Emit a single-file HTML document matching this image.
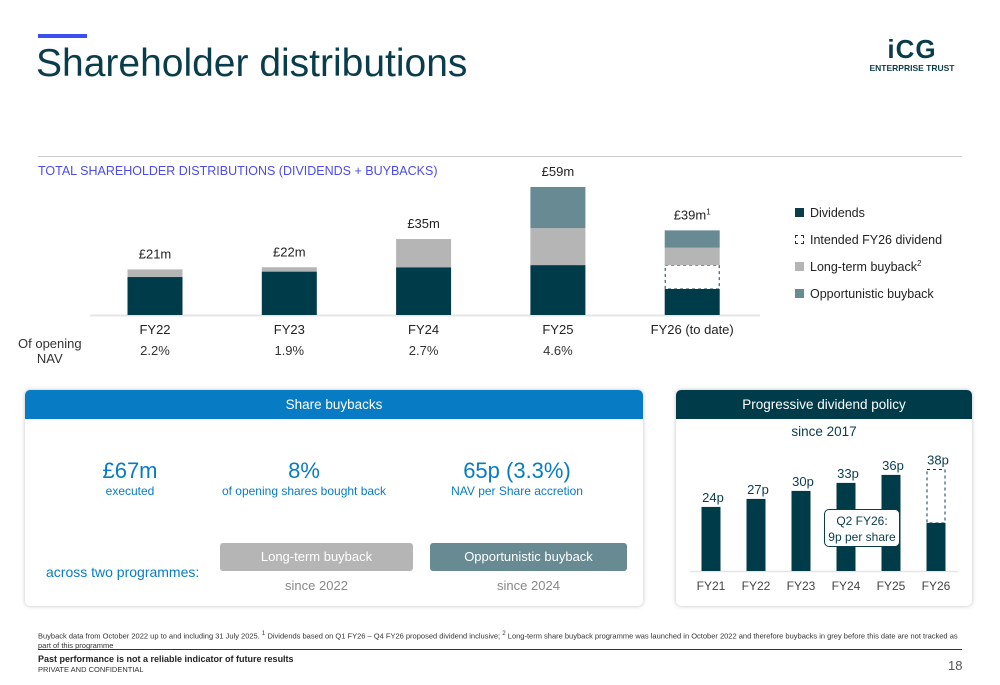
<!DOCTYPE html>
<html><head><meta charset="utf-8"><style>
*{margin:0;padding:0;box-sizing:border-box}
body{width:1000px;height:685px;background:#fff;font-family:"Liberation Sans",sans-serif;position:relative;overflow:hidden;color:#333}
.a{position:absolute;white-space:nowrap}
.c{text-align:center}
</style></head><body>
<div class="a" style="left:38px;top:34px;width:49px;height:4px;background:#3d4ff0"></div>
<div class="a" style="left:36px;top:42px;font-size:39px;color:#0a3d4c;letter-spacing:0px">Shareholder distributions</div>
<div class="a c" style="left:862px;top:36px;width:100px;color:#0a3d4c;font-weight:bold">
 <div style="font-size:26px;line-height:26px;letter-spacing:1px">iCG</div>
 <div style="font-size:8.5px;line-height:12px">ENTERPRISE TRUST</div></div>
<div class="a" style="left:38px;top:156px;width:924px;height:1px;background:#ccc"></div>
<div class="a" style="left:38px;top:164px;font-size:12.5px;color:#4b4bf0">TOTAL SHAREHOLDER DISTRIBUTIONS (DIVIDENDS + BUYBACKS)</div>

<svg class="a" style="left:0;top:0" width="1000" height="685" id="topchart"></svg>

<div class="a" style="left:18px;top:336px;font-size:13px;color:#333;text-align:center;line-height:15px">Of opening<br>NAV</div>

<div class="a" style="left:795px;top:200px;font-size:12.5px;color:#222;line-height:27px">
 <div><span style="display:inline-block;width:9px;height:9px;background:#0a3d4c;margin-right:6px"></span>Dividends</div>
 <div><span style="display:inline-block;width:9px;height:9px;border:1px dashed #0a3d4c;margin-right:6px"></span>Intended FY26 dividend</div>
 <div><span style="display:inline-block;width:9px;height:9px;background:#b5b5b5;margin-right:6px"></span>Long-term buyback<sup style="font-size:8px;line-height:0">2</sup></div>
 <div><span style="display:inline-block;width:9px;height:9px;background:#678a93;margin-right:6px"></span>Opportunistic buyback</div>
</div>

<div class="a" style="left:25px;top:390px;width:618px;height:216px;border-radius:5px;box-shadow:0 0 4px rgba(0,0,0,.25);background:#fff">
 <div class="c" style="height:29px;background:#077cc4;border-radius:5px 5px 0 0;color:#fff;font-size:13.5px;line-height:29px">Share buybacks</div>
</div>
<div class="a c" style="left:60px;top:458px;width:140px;color:#077cc4"><div style="font-size:22px">£67m</div><div style="font-size:12px">executed</div></div>
<div class="a c" style="left:200px;top:458px;width:208px;color:#077cc4"><div style="font-size:22px">8%</div><div style="font-size:12px">of opening shares bought back</div></div>
<div class="a c" style="left:413px;top:458px;width:208px;color:#077cc4"><div style="font-size:22px">65p (3.3%)</div><div style="font-size:12px">NAV per Share accretion</div></div>
<div class="a" style="left:46px;top:564px;font-size:14px;color:#077cc4">across two programmes:</div>
<div class="a c" style="left:220px;top:543px;width:193px;height:28px;border-radius:3px;background:#b5b5b5;color:#fff;font-size:13px;line-height:28px">Long-term buyback</div>
<div class="a c" style="left:220px;top:578px;width:193px;font-size:13px;color:#888">since 2022</div>
<div class="a c" style="left:430px;top:543px;width:197px;height:28px;border-radius:3px;background:#678a93;color:#fff;font-size:13px;line-height:28px">Opportunistic buyback</div>
<div class="a c" style="left:430px;top:578px;width:197px;font-size:13px;color:#888">since 2024</div>

<div class="a" style="left:676px;top:390px;width:296px;height:216px;border-radius:5px;box-shadow:0 0 4px rgba(0,0,0,.25);background:#fff">
 <div class="c" style="height:29px;background:#003b4a;border-radius:5px 5px 0 0;color:#fff;font-size:13.5px;line-height:29px">Progressive dividend policy</div>
 <div class="c" style="margin-top:5px;font-size:13.5px;color:#0a3d4c">since 2017</div>
</div>
<svg class="a" style="left:0;top:0" width="1000" height="685" id="divchart"></svg>
<div class="a c" style="left:824px;top:509px;width:76px;height:38px;border:1px solid #0a3d4c;border-radius:5px;background:#fff;font-size:12px;line-height:16px;color:#0a3d4c;padding-top:3px">Q2 FY26:<br>9p per share</div>

<div class="a" style="left:38px;top:629px;font-size:7.5px;color:#333;line-height:9px;white-space:normal;width:920px">Buyback data from October 2022 up to and including 31 July 2025. <sup>1</sup> Dividends based on Q1 FY26 – Q4 FY26 proposed dividend inclusive; <sup>2</sup> Long-term share buyback programme was launched in October 2022 and therefore buybacks in grey before this date are not tracked as part of this programme</div>
<div class="a" style="left:38px;top:649px;width:924px;height:1px;background:#333"></div>
<div class="a" style="left:38px;top:654px;font-size:9px;font-weight:bold;color:#222">Past performance is not a reliable indicator of future results</div>
<div class="a" style="left:38px;top:665px;font-size:7.5px;color:#333">PRIVATE AND CONFIDENTIAL</div>
<div class="a" style="left:948px;top:658px;font-size:13px;color:#555">18</div>

<script>
const years=["FY22","FY23","FY24","FY25","FY26 (to date)"];
const dividends=[17.5,20,22,23,12];
const intended=[0,0,0,0,11];
const longTerm=[3.5,2,13,17,8];
const opportunistic=[0,0,0,19,8];
const totals=["£21m","£22m","£35m","£59m","£39m"];
const navPct=["2.2%","1.9%","2.7%","4.6%",""];
const NS="http://www.w3.org/2000/svg";
function mk(svg,tag,at,txt){const e=document.createElementNS(NS,tag);for(const k in at)e.setAttribute(k,at[k]);if(txt!==undefined)e.textContent=txt;svg.appendChild(e);return e;}
const topSvg=document.getElementById('topchart');
const base=315,k=2.17,bw=55;
const xc=i=>155+i*134.3;
const yScale=v=>base-v*k;
const bl=mk(topSvg,'line',{x1:90,x2:760,y1:base+0.5,y2:base+0.5,stroke:'#e6e6e6','stroke-width':2});


years.forEach((yr,i)=>{
 let acc=0;
 const segs=[[dividends[i],'div'],[intended[i],'int'],[longTerm[i],'lt'],[opportunistic[i],'opp']];
 segs.forEach(([v,t])=>{
  if(v<=0)return;
  const at={x:xc(i)-bw/2,y:yScale(acc+v),width:bw,height:v*k};
  if(t==='div')at.fill='#003b4a';
  if(t==='lt')at.fill='#b5b5b5';
  if(t==='opp')at.fill='#678a93';
  if(t==='int'){at.fill='#fff';at.stroke='#0a3d4c';at['stroke-dasharray']='3,3';at.x+=0.5;at.width-=1;}
  const r=mk(topSvg,'rect',at);
  
  
  acc+=v;
 });
 const tl=mk(topSvg,'text',{x:xc(i),y:yScale(acc)-11,'text-anchor':'middle','font-size':13,fill:'#222'},totals[i]);
 if(i===4){mk(tl,'tspan',{'font-size':8,dy:-5},'1');}
 
 
 const xl=mk(topSvg,'text',{x:xc(i),y:334,'text-anchor':'middle','font-size':13,fill:'#222'},yr);
 
 
 if(navPct[i]){const p=mk(topSvg,'text',{x:xc(i),y:355,'text-anchor':'middle','font-size':13,fill:'#333'},navPct[i]);
 
 }
});

const dYears=["FY21","FY22","FY23","FY24","FY25","FY26"];
const dValues=[24,27,30,33,36,38];
const dPaid=[24,27,30,33,36,18];
const dLabels=["24p","27p","30p","33p","36p","38p"];
const dv=document.getElementById('divchart');
const db=571,dk=2.67,dw=19;
const dx=i=>711+i*45;
const dy=v=>db-v*dk;
const dbl=mk(dv,'line',{x1:690,x2:958,y1:db+0.5,y2:db+0.5,stroke:'#e6e6e6','stroke-width':1.5});


dYears.forEach((yr,i)=>{
 if(dValues[i]>dPaid[i]){const o=mk(dv,'rect',{x:dx(i)-dw/2+0.5,y:dy(dValues[i]),width:dw-1,height:(dValues[i]-dPaid[i])*dk,fill:'none',stroke:'#0a3d4c','stroke-dasharray':'3,3'});
 
 }
 const r=mk(dv,'rect',{x:dx(i)-dw/2,y:dy(dPaid[i]),width:dw,height:dPaid[i]*dk,fill:'#003b4a'});
 
 
 const l=mk(dv,'text',{x:dx(i)+2,y:dy(dValues[i])-5,'text-anchor':'middle','font-size':13,fill:'#0a3d4c'},dLabels[i]);
 
 
 const t=mk(dv,'text',{x:dx(i),y:590,'text-anchor':'middle','font-size':12,fill:'#444'},yr);
 
 
});
</script>
</body></html>
